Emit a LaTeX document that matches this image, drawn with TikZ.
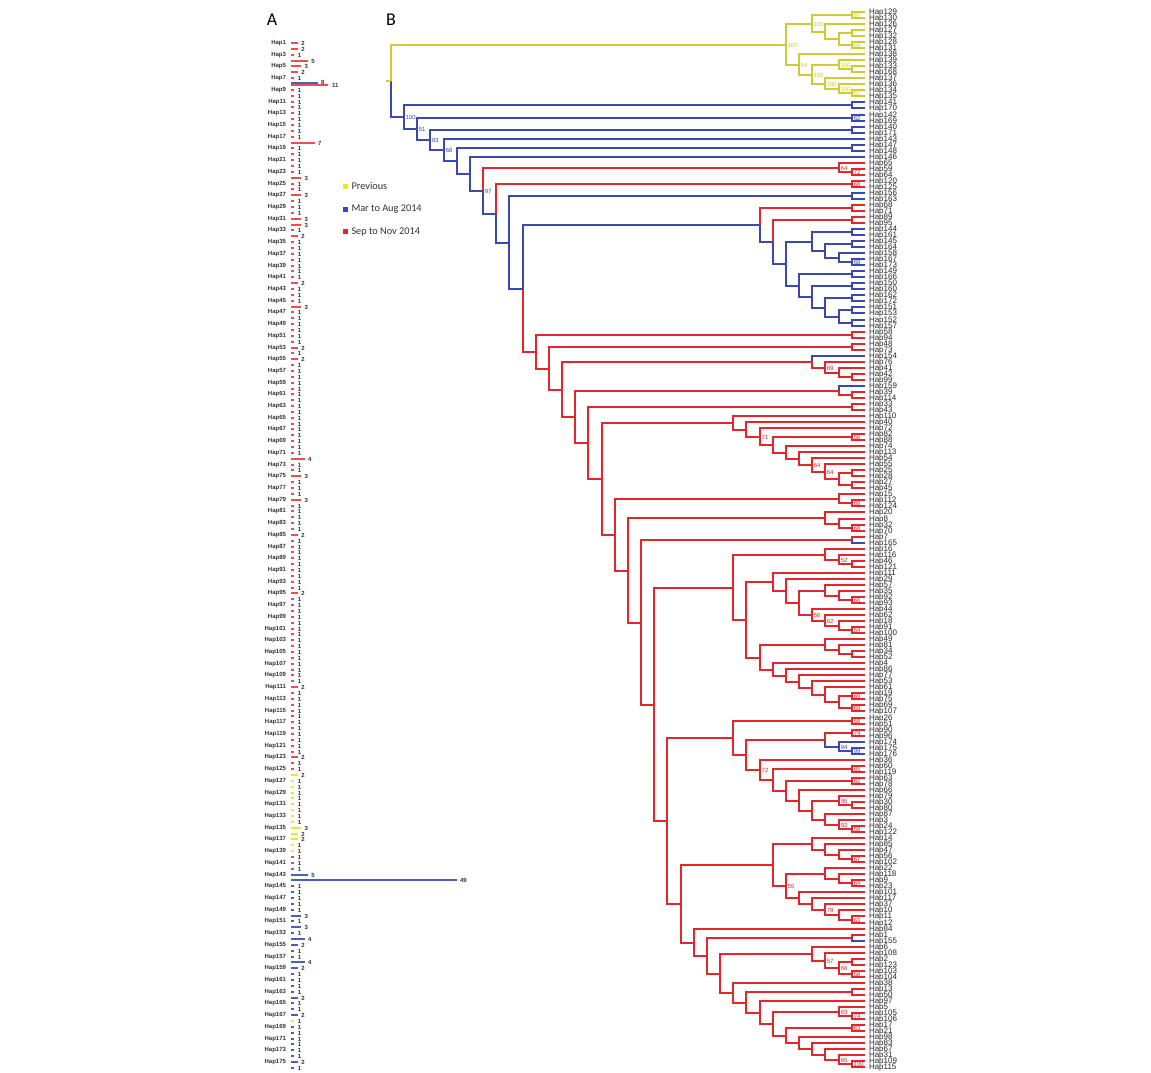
\documentclass[tikz,border=0pt]{standalone}
\usepackage{fontspec}
\setmainfont{Liberation Sans}
\newfontfamily\legfont{Carlito}
\usetikzlibrary{calc}

\definecolor{prevc}{RGB}{206,204,50}
\definecolor{marc}{RGB}{58,72,176}
\definecolor{sepc}{RGB}{226,38,44}
\definecolor{barred}{RGB}{236,78,78}
\definecolor{barblue}{RGB}{72,96,182}
\definecolor{baryel}{RGB}{238,226,60}
\definecolor{legyel}{RGB}{242,232,20}

\tikzset{
  yelbr/.style={draw=prevc},
  bluebr/.style={draw=marc},
  redbr/.style={draw=sepc},
  leaf/.style={anchor=base west, inner sep=0pt, font=\fontsize{8}{8}\selectfont, text=black!85},
  bsval/.style={anchor=west, inner sep=0.8pt, font=\fontsize{6}{6}\selectfont},
  haplab/.style={anchor=east, inner sep=0pt, font=\bfseries\fontsize{6}{6}\selectfont, text=black!80},
  cntlab/.style={anchor=west, inner sep=0pt, font=\bfseries\fontsize{6}{6}\selectfont, text=black!80},
  legtxt/.style={anchor=west, inner sep=0pt, font=\legfont\fontsize{10.3}{11}\selectfont, text=black!80},
  legsq/.style={minimum size=5pt, inner sep=0pt},
  panel/.style={font=\legfont\fontsize{18}{18}\selectfont, inner sep=0pt}
}

% parent of two children, at depth k from the tips (snapped to whole points)
\newcommand\clade[6]{%
  \path let \p1=(#3), \p2=(#4) in
    coordinate (#1) at ({round(865-13.17*#2)*1pt},{round(0.5*(\y1+\y2))*1pt});
  \draw[#5] (#1) |- (#3);
  \draw[#6] (#1) |- (#4);
}
\newcommand\cl[5]{\clade{#1}{#2}{#3}{#4}{#5}{#5}}
\newcommand\bsv[3]{\node[bsval,text=#3] (bs#1) at (#1) {#2};}

\begin{document}
\begin{tikzpicture}[x=1pt, y=-1pt, line width=2pt]

\path[fill=white] (0,0) rectangle (1151,1073);
\useasboundingbox (0,0) rectangle (1151,1073);

\node[panel] (pa) at (272,20) {A};
\node[panel] (pb) at (391,20) {B};

% ---------- A: counts per haplotype
\foreach \c [count=\r] in {2,2,1,5,3,2,1,0,1,1, 1,1,1,1,1,1,1,7,1,1,
  1,1,1,3,1,1,3,1,1,1, 3,3,1,2,1,1,1,1,1,1, 1,2,1,1,1,3,1,1,1,1,
  1,1,2,1,2,1,1,1,1,1, 1,1,1,1,1,1,1,1,1,1, 1,4,1,1,3,1,1,1,3,1,
  1,1,1,1,2,1,1,1,1,1, 1,1,1,1,2,1,1,1,1,1, 1,1,1,1,1,1,1,1,1,1,
  2,1,1,1,1,1,1,1,1,1, 1,1,2,1,1,2,1,1,1,1, 1,1,1,1,3,2,2,1,1,1,
  1,1,5,49,1,1,1,1,1,3, 1,3,1,4,2,1,1,4,2,1, 1,1,1,2,1,1,2,1,1,1,
  1,1,1,1,2,1}
{
  \pgfmathsetmacro\yy{round(43+5.856*(\r-1))}
  \ifnum\c>0
    \ifnum\r<126 \def\bc{barred}\else
    \ifnum\r<140 \def\bc{baryel}\else
    \ifnum\r<143 \def\bc{barred}\else
    \ifnum\r=168 \def\bc{baryel}\else
    \def\bc{barblue}\fi\fi\fi\fi
    \draw[\bc, line width=2pt] (291,\yy) -- ++({3.38*\c},0) coordinate (e\r);
    \node[cntlab] (n\r) at ([xshift=2.5pt]e\r) {\c};
  \fi
  \ifodd\r\relax
    \node[haplab] (hl\r) at (287,\yy) {Hap\r};
  \fi
}
% Hap8 seen in both periods
\draw[barblue, line width=2pt] (291,83) -- ++(27.0,0) coordinate (e8b);
\draw[barred, line width=2pt] (291,85) -- ++(37.2,0) coordinate (e8r);
\node[cntlab] (n8b) at ([xshift=2pt,yshift=0.8pt]e8b) {8};
\node[cntlab] (n8r) at ([xshift=3pt]e8r) {11};

% ---------- legend
\node[legsq, fill=legyel] (sqp) at (345,186) {};
\node[legsq, fill=marc] (sqm) at (345,209) {};
\node[legsq, fill=sepc] (sqs) at (345,231.5) {};
\node[legtxt] (txp) at (350.5,186) {Previous};
\node[legtxt] (txm) at (350.5,209) {Mar to Aug 2014};
\node[legtxt] (txs) at (350.5,231.5) {Sep to Nov 2014};

% ---------- B: tips
\foreach \h [count=\i] in {129,130,126,127,132,128,131,138,139,133,
  168,137,136,134,135,141,170,142,169,140, 171,143,147,148,146,65,59,64,120,125,
  156,163,68,71,89,95,144,161,145,164, 158,167,173,149,166,150,160,162,172,151,
  153,152,157,58,94,48,73,154,76,41, 42,99,159,39,114,33,43,110,40,72,
  82,88,74,113,54,55,25,28,27,45, 15,112,124,20,8,32,70,7,165,16,
  116,46,121,111,29,57,35,92,93,44, 62,18,91,100,49,81,34,52,4,86,
  77,53,61,19,75,69,107,26,51,90, 96,174,175,176,36,60,119,63,78,66,
  79,30,80,87,3,24,122,14,85,47, 56,102,22,118,9,23,101,117,37,10,
  11,12,84,1,155,6,108,2,123,103, 104,38,13,50,97,5,105,106,17,21,
  98,83,67,31,109,115}
{
  \coordinate (t\h) at (865,{round(12+6.03*(\i-1))});
  \node[leaf] (hap\h) at ([xshift=3pt,yshift=-2.9pt]t\h) {Hap\h};
}

% previous
\cl{y1}{1}{t129}{t130}{yelbr}
\cl{y4}{1}{t127}{t132}{yelbr}
\cl{y5}{1}{t128}{t131}{yelbr}
\cl{y3}{2}{y4}{y5}{yelbr}
\cl{y2}{3}{t126}{y3}{yelbr}
\cl{ya}{4}{y1}{y2}{yelbr}
\cl{y8}{1}{t133}{t168}{yelbr}
\cl{y7}{2}{t139}{y8}{yelbr}
\cl{y11}{1}{t134}{t135}{yelbr}
\cl{y10}{2}{t136}{y11}{yelbr}
\cl{y9}{3}{t137}{y10}{yelbr}
\cl{y6}{4}{y7}{y9}{yelbr}
\cl{yb}{5}{t138}{y6}{yelbr}
\cl{yc}{6}{ya}{yb}{yelbr}

% small clades on the blue spine
\cl{b141}{1}{t141}{t170}{bluebr}
\cl{b142}{1}{t142}{t169}{bluebr}
\cl{b140}{1}{t140}{t171}{bluebr}
\cl{b147}{1}{t147}{t148}{bluebr}
\cl{b156}{1}{t156}{t163}{bluebr}
\cl{r59}{1}{t59}{t64}{redbr}
\cl{r65}{2}{t65}{r59}{redbr}
\cl{r120}{1}{t120}{t125}{redbr}

% Mar to Aug group
\cl{r68}{1}{t68}{t71}{redbr}
\cl{r89}{1}{t89}{t95}{redbr}
\cl{m1}{1}{t144}{t161}{bluebr}
\cl{m2}{1}{t145}{t164}{bluebr}
\cl{m3}{1}{t167}{t173}{bluebr}
\cl{m4}{2}{t158}{m3}{bluebr}
\cl{m5}{3}{m2}{m4}{bluebr}
\cl{m6}{4}{m1}{m5}{bluebr}
\cl{m7}{1}{t149}{t166}{bluebr}
\cl{m8}{1}{t150}{t160}{bluebr}
\cl{m9}{1}{t162}{t172}{bluebr}
\cl{m10}{1}{t151}{t153}{bluebr}
\cl{m11}{1}{t152}{t157}{bluebr}
\cl{m12}{2}{m10}{m11}{bluebr}
\cl{m13}{3}{m9}{m12}{bluebr}
\cl{m14}{4}{m8}{m13}{bluebr}
\cl{m15}{5}{m7}{m14}{bluebr}
\cl{m16}{6}{m6}{m15}{bluebr}
\clade{m17}{7}{r89}{m16}{redbr}{bluebr}
\clade{m18}{8}{r68}{m17}{redbr}{bluebr}

% Sep to Nov group
\cl{r58}{1}{t58}{t94}{redbr}
\cl{r48}{1}{t48}{t73}{redbr}
\cl{s1}{1}{t42}{t99}{redbr}
\cl{s2}{2}{t41}{s1}{redbr}
\cl{s3}{3}{t76}{s2}{redbr}
\clade{s4}{4}{t154}{s3}{bluebr}{redbr}
\cl{s5}{1}{t39}{t114}{redbr}
\clade{s6}{2}{t159}{s5}{bluebr}{redbr}
\cl{r33}{1}{t33}{t43}{redbr}

\cl{u1}{1}{t82}{t88}{redbr}
\cl{u2}{1}{t25}{t28}{redbr}
\cl{u3}{1}{t27}{t45}{redbr}
\cl{u4}{2}{u2}{u3}{redbr}
\cl{u5}{3}{t55}{u4}{redbr}
\cl{u6}{4}{t54}{u5}{redbr}
\cl{u7}{5}{t113}{u6}{redbr}
\cl{u8}{6}{t74}{u7}{redbr}
\cl{u9}{7}{u1}{u8}{redbr}
\cl{u10}{8}{t72}{u9}{redbr}
\cl{u11}{9}{t40}{u10}{redbr}
\cl{u12}{10}{t110}{u11}{redbr}
\cl{u13}{1}{t112}{t124}{redbr}
\cl{u14}{2}{t15}{u13}{redbr}
\cl{u15}{1}{t32}{t70}{redbr}
\cl{u16}{2}{t8}{u15}{redbr}
\cl{u17}{3}{t20}{u16}{redbr}
\clade{u18}{1}{t7}{t165}{redbr}{bluebr}

\cl{v1}{1}{t46}{t121}{redbr}
\cl{v2}{2}{t116}{v1}{redbr}
\cl{v3}{3}{t16}{v2}{redbr}
\cl{v4}{1}{t92}{t93}{redbr}
\cl{v5}{2}{t35}{v4}{redbr}
\cl{v6}{3}{t57}{v5}{redbr}
\cl{v7}{1}{t91}{t100}{redbr}
\cl{v8}{2}{t18}{v7}{redbr}
\cl{v9}{3}{t62}{v8}{redbr}
\cl{v10}{4}{t44}{v9}{redbr}
\cl{v11}{5}{v6}{v10}{redbr}
\cl{v12}{6}{t29}{v11}{redbr}
\cl{v13}{7}{t111}{v12}{redbr}
\cl{v14}{1}{t34}{t52}{redbr}
\cl{v15}{2}{t81}{v14}{redbr}
\cl{v16}{3}{t49}{v15}{redbr}
\cl{v17}{1}{t19}{t75}{redbr}
\cl{v18}{1}{t69}{t107}{redbr}
\cl{v19}{2}{v17}{v18}{redbr}
\cl{v20}{3}{t61}{v19}{redbr}
\cl{v21}{4}{t53}{v20}{redbr}
\cl{v22}{5}{t77}{v21}{redbr}
\cl{v23}{6}{t86}{v22}{redbr}
\cl{v24}{7}{t4}{v23}{redbr}
\cl{v25}{8}{v16}{v24}{redbr}
\cl{v26}{9}{v13}{v25}{redbr}
\cl{v27}{10}{v3}{v26}{redbr}

\cl{w1}{1}{t26}{t51}{redbr}
\cl{w2}{1}{t90}{t96}{redbr}
\cl{w3}{1}{t175}{t176}{bluebr}
\cl{w4}{2}{t174}{w3}{bluebr}
\clade{w5}{3}{w2}{w4}{redbr}{bluebr}
\cl{w6}{1}{t60}{t119}{redbr}
\cl{w7}{1}{t63}{t78}{redbr}
\cl{w8}{1}{t30}{t80}{redbr}
\cl{w9}{2}{t79}{w8}{redbr}
\cl{w10}{1}{t24}{t122}{redbr}
\cl{w11}{2}{t3}{w10}{redbr}
\cl{w12}{3}{t87}{w11}{redbr}
\cl{w13}{4}{w9}{w12}{redbr}
\cl{w14}{5}{t66}{w13}{redbr}
\cl{w15}{6}{w7}{w14}{redbr}
\cl{w16}{7}{w6}{w15}{redbr}
\cl{w17}{8}{t36}{w16}{redbr}
\cl{w18}{9}{w5}{w17}{redbr}
\cl{w19}{10}{w1}{w18}{redbr}

\cl{x1}{1}{t56}{t102}{redbr}
\cl{x2}{2}{t47}{x1}{redbr}
\cl{x3}{3}{t85}{x2}{redbr}
\cl{x4}{4}{t14}{x3}{redbr}
\cl{x5}{1}{t9}{t23}{redbr}
\cl{x6}{2}{t118}{x5}{redbr}
\cl{x7}{3}{t22}{x6}{redbr}
\cl{x8}{1}{t11}{t12}{redbr}
\cl{x9}{2}{t10}{x8}{redbr}
\cl{x10}{3}{t37}{x9}{redbr}
\cl{x11}{4}{t117}{x10}{redbr}
\cl{x12}{5}{t101}{x11}{redbr}
\cl{x13}{6}{x7}{x12}{redbr}
\cl{x14}{7}{x4}{x13}{redbr}

\clade{z1}{1}{t1}{t155}{redbr}{bluebr}
\cl{z2}{1}{t2}{t123}{redbr}
\cl{z3}{1}{t103}{t104}{redbr}
\cl{z4}{2}{z2}{z3}{redbr}
\cl{z5}{3}{t108}{z4}{redbr}
\cl{z6}{4}{t6}{z5}{redbr}
\cl{z7}{1}{t13}{t50}{redbr}
\cl{z8}{1}{t105}{t106}{redbr}
\cl{z9}{2}{t5}{z8}{redbr}
\cl{z10}{1}{t17}{t21}{redbr}
\cl{z11}{1}{t109}{t115}{redbr}
\cl{z12}{2}{t31}{z11}{redbr}
\cl{z13}{3}{t67}{z12}{redbr}
\cl{z14}{4}{t83}{z13}{redbr}
\cl{z15}{5}{t98}{z14}{redbr}
\cl{z16}{6}{z10}{z15}{redbr}
\cl{z17}{7}{z9}{z16}{redbr}
\cl{z18}{8}{t97}{z17}{redbr}
\cl{z19}{9}{z7}{z18}{redbr}
\cl{z20}{10}{t38}{z19}{redbr}
\cl{z21}{11}{z6}{z20}{redbr}

% red spine
\cl{rr14}{12}{z1}{z21}{redbr}
\cl{rr13}{13}{t84}{rr14}{redbr}
\cl{rr12}{14}{x14}{rr13}{redbr}
\cl{rr11}{15}{w19}{rr12}{redbr}
\cl{rr10}{16}{v27}{rr11}{redbr}
\cl{rr9}{17}{u18}{rr10}{redbr}
\cl{rr8}{18}{u17}{rr9}{redbr}
\cl{rr7}{19}{u14}{rr8}{redbr}
\cl{rr6}{20}{u12}{rr7}{redbr}
\cl{rr5}{21}{r33}{rr6}{redbr}
\cl{rr4}{22}{s6}{rr5}{redbr}
\cl{rr3}{23}{s4}{rr4}{redbr}
\cl{rr2}{24}{r48}{rr3}{redbr}
\cl{rr1}{25}{r58}{rr2}{redbr}

% blue spine and root
\clade{b10}{26}{m18}{rr1}{bluebr}{redbr}
\cl{b9}{27}{b156}{b10}{bluebr}
\clade{b8}{28}{r120}{b9}{redbr}{bluebr}
\clade{b7}{29}{r65}{b8}{redbr}{bluebr}
\cl{b6}{30}{t146}{b7}{bluebr}
\cl{b5}{31}{b147}{b6}{bluebr}
\cl{b4}{32}{t143}{b5}{bluebr}
\cl{b3}{33}{b140}{b4}{bluebr}
\cl{b2}{34}{b142}{b3}{bluebr}
\cl{b1}{35}{b141}{b2}{bluebr}
\clade{root}{36}{yc}{b1}{yelbr}{bluebr}
\coordinate (stem) at ($(root)+(-5,0)$);
\draw[yelbr] (stem) -- (root);

% support values
\bsv{y1}{67}{prevc} \bsv{y5}{64}{prevc} \bsv{ya}{100}{prevc}
\bsv{y7}{100}{prevc} \bsv{y11}{67}{prevc} \bsv{y10}{100}{prevc}
\bsv{y9}{100}{prevc} \bsv{y6}{100}{prevc} \bsv{yb}{64}{prevc}
\bsv{yc}{100}{prevc}
\bsv{b142}{62}{marc} \bsv{b1}{100}{marc} \bsv{b2}{51}{marc}
\bsv{b3}{93}{marc} \bsv{b4}{68}{marc} \bsv{b7}{97}{marc}
\bsv{m3}{68}{marc} \bsv{w4}{94}{marc} \bsv{w3}{99}{marc}
\bsv{r59}{72}{sepc} \bsv{r65}{64}{sepc} \bsv{r120}{68}{sepc}
\bsv{s3}{69}{sepc} \bsv{u1}{56}{sepc} \bsv{u10}{71}{sepc}
\bsv{u6}{64}{sepc} \bsv{u5}{64}{sepc} \bsv{u13}{68}{sepc}
\bsv{u15}{68}{sepc} \bsv{v2}{52}{sepc} \bsv{v4}{66}{sepc}
\bsv{v10}{56}{sepc} \bsv{v9}{62}{sepc} \bsv{v7}{54}{sepc}
\bsv{v17}{69}{sepc} \bsv{v18}{68}{sepc}
\bsv{w1}{58}{sepc} \bsv{w2}{74}{sepc} \bsv{w17}{72}{sepc}
\bsv{w6}{65}{sepc} \bsv{w7}{62}{sepc} \bsv{w9}{95}{sepc}
\bsv{w11}{92}{sepc} \bsv{w10}{58}{sepc}
\bsv{x1}{67}{sepc} \bsv{x5}{64}{sepc} \bsv{x13}{55}{sepc}
\bsv{x10}{79}{sepc} \bsv{x8}{63}{sepc}
\bsv{z5}{57}{sepc} \bsv{z4}{66}{sepc} \bsv{z3}{58}{sepc}
\bsv{z9}{63}{sepc} \bsv{z8}{74}{sepc} \bsv{z10}{63}{sepc}
\bsv{z12}{65}{sepc} \bsv{z11}{100}{sepc}

\end{tikzpicture}
\end{document}
